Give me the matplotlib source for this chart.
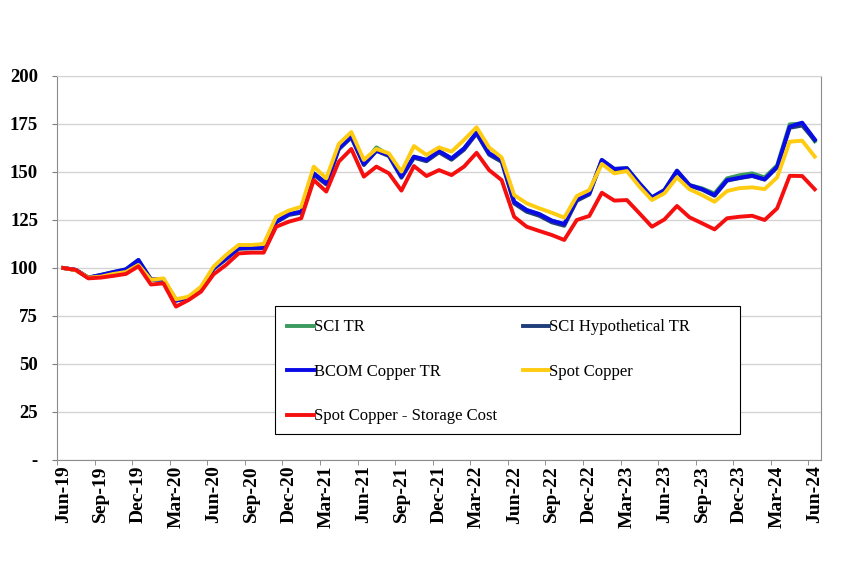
import matplotlib
matplotlib.use("Agg")
import matplotlib.pyplot as plt
from matplotlib.patches import Rectangle

# monthly index levels, Jun-19 .. Jun-24 (61 points)
sci_tr = [100, 99, 95, 96.4, 97.9, 99.3, 104.2, 94, 94, 83.5, 84.5, 89, 99.9, 105, 110.3, 110.6, 110.6,
          124.1, 128.1, 129.3, 149.3, 144.1, 162.3, 168.4, 154.2, 162.8, 158.9, 147.6, 158, 156.3, 160.9,
          157.1, 162.3, 170.5, 159.7, 156.3, 134.5, 130.2, 128.1, 124.7, 122.9, 135.8, 138.9, 156.3, 151.6,
          152, 144.1, 136.8, 140.6, 150.7, 143.2, 141.5, 138.8, 146.7, 148.3, 149.3, 147.2, 153.5, 174.8,
          175.3, 166]
sci_hyp = [100, 99, 95, 96.2, 97.6, 99, 103.8, 94, 94, 83, 84.5, 89, 99.5, 104.6, 110, 110.2, 110.3,
           123.8, 127.6, 128.8, 148.6, 143.5, 161.8, 168, 153.6, 161, 158.3, 147, 157.4, 155.6, 160.2,
           156.4, 161.6, 170, 159, 155.3, 133.6, 129.3, 127.2, 123.8, 122, 135, 138.3, 155.8, 151,
           151.5, 143.6, 136.5, 140.2, 150.2, 142.8, 140.8, 137.6, 145.5, 146.8, 147.9, 146, 152.4, 173,
           174.2, 166.5]
bcom_tr = [100, 99, 95, 96.4, 97.9, 99.3, 104.2, 94, 94, 83, 84.5, 89, 99.9, 105, 110.3, 110.6, 110.6,
           124.1, 128.1, 129.3, 149.3, 144.1, 162.3, 168.4, 154.2, 161.1, 158.9, 147.6, 158, 156.3, 160.9,
           157.1, 162.3, 170.5, 159.7, 156.3, 134.5, 130.2, 128.1, 124.7, 122.9, 135.8, 138.9, 156.3, 151.6,
           152, 144.1, 136.8, 140.6, 150.7, 143.2, 141.1, 138, 145.8, 147, 148.1, 146.2, 152.8, 173.6,
           175.7, 167]
spot = [100, 98.8, 95, 95.5, 96.9, 97.9, 101.6, 93.8, 94.6, 83.7, 85.1, 90.3, 100.7, 106.8, 112, 112, 112.5,
        126.7, 129.9, 131.9, 152.8, 146.7, 164.6, 170.8, 156.3, 162, 159.7, 150.2, 163.5, 158.9, 162.8,
        160.6, 166.7, 173.3, 162.8, 157.6, 138, 133.7, 131.1, 128.8, 126.2, 137.5, 140.6, 154.2, 149.3,
        150.5, 142.4, 135.4, 138.9, 147.2, 141, 138, 134.5, 140.1, 141.6, 142, 141.1, 147.2, 165.8,
        166.3, 158]
spot_storage = [100, 99, 94.6, 95, 95.9, 96.9, 100.9, 91.4, 92, 79.9, 83.3, 87.7, 96.7, 101.6, 107.6, 108, 108,
                121.5, 124.1, 125.9, 145.8, 139.8, 155.4, 162, 147.6, 152.8, 149.3, 140.3, 153.1, 147.9, 151,
                148.4, 152.8, 160, 151, 145.8, 126.7, 121.5, 119.3, 117.2, 114.6, 125, 127.1, 139.2, 135.1,
                135.4, 128.5, 121.5, 125.3, 132.3, 126.4, 123.3, 120.1, 125.9, 126.7, 127.2, 125, 131.1, 148,
                147.9, 141]

tick_labels = ["Jun-19", "Sep-19", "Dec-19", "Mar-20", "Jun-20", "Sep-20", "Dec-20", "Mar-21", "Jun-21",
               "Sep-21", "Dec-21", "Mar-22", "Jun-22", "Sep-22", "Dec-22", "Mar-23", "Jun-23", "Sep-23",
               "Dec-23", "Mar-24", "Jun-24"]

plt.rcParams['font.family'] = ['Liberation Serif', 'DejaVu Serif']

fig = plt.figure(figsize=(8.6, 5.84), dpi=100)
ax = fig.add_axes([57/860, 1-460/584, (821-57)/860, 384/584])

x = list(range(len(bcom_tr)))
lw = 2.8
l1, = ax.plot(x, sci_tr, color="#3C9A5F", lw=lw, label="SCI TR", zorder=3)
l2, = ax.plot(x, sci_hyp, color="#1F3D78", lw=lw, label="SCI Hypothetical TR", zorder=4)
l3, = ax.plot(x, bcom_tr, color="#0A0AE6", lw=lw, label="BCOM Copper TR", zorder=5)
l4, = ax.plot(x, spot, color="#FFCC11", lw=lw, label="Spot Copper", zorder=6)
l5, = ax.plot(x, spot_storage, color="#F50F0F", lw=lw, label="Spot Copper - Storage Cost", zorder=7)

ax.set_xlim(-0.5, len(x) - 0.5)
ax.set_ylim(0, 200)
ax.set_yticks(range(0, 201, 25))
ax.set_yticklabels(["-"] + [str(v) for v in range(25, 201, 25)], fontsize=13.5, fontweight="bold")
ax.yaxis.grid(True, color="#D4D4D4", lw=1)
ax.set_axisbelow(True)

ax.set_xticks(range(0, len(x), 3))
ax.set_xticklabels(tick_labels, rotation=90, fontsize=14, fontweight="bold")
ax.set_xticks([v - 0.5 for v in range(0, len(x), 3)], minor=True)
ax.tick_params(axis="x", which="major", length=0, pad=4)
ax.tick_params(axis="x", which="minor", length=3.6, color="#7F7F7F")
ax.tick_params(axis="y", length=3.6, color="#7F7F7F", pad=10)

for s in ["left", "bottom", "right"]:
    ax.spines[s].set_color("#8C8C8C")
ax.spines["top"].set_color("#D4D4D4")

# legend box drawn separately so the columns can sit where they do in the original
ax.add_patch(Rectangle((0.285, 0.068), 0.609, 0.333, transform=ax.transAxes, facecolor="white",
                       edgecolor="black", lw=0.8, zorder=9))
leg = ax.legend([l1, l3, l5, l2, l4],
                ["SCI TR", "BCOM Copper TR", "Spot Copper - Storage Cost", "SCI Hypothetical TR", "Spot Copper"],
                ncol=2, loc="upper left", bbox_to_anchor=(0.301, 0.366), frameon=False,
                fontsize=12, handlelength=1.6, handletextpad=0.0, labelspacing=1.71,
                columnspacing=1.56, borderpad=0, borderaxespad=0)
leg.set_zorder(10)

fig.savefig("out.png", dpi=100)
